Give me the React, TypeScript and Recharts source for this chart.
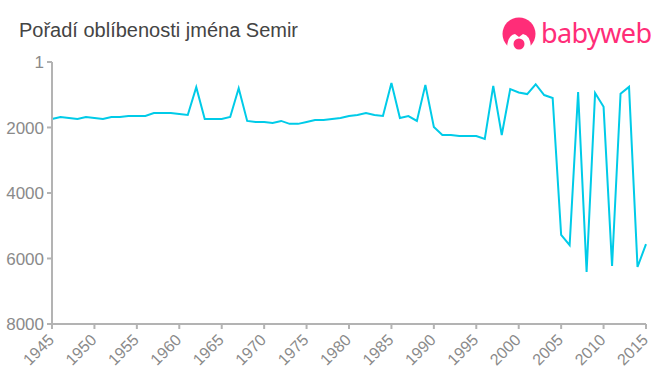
import React from 'react';
import { LineChart, Line, XAxis, YAxis } from 'recharts';

const years = [
    1945, 1946, 1947, 1948, 1949, 1950, 1951, 1952, 1953, 1954,
    1955, 1956, 1957, 1958, 1959, 1960, 1961, 1962, 1963, 1964,
    1965, 1966, 1967, 1968, 1969, 1970, 1971, 1972, 1973, 1974,
    1975, 1976, 1977, 1978, 1979, 1980, 1981, 1982, 1983, 1984,
    1985, 1986, 1987, 1988, 1989, 1990, 1991, 1992, 1993, 1994,
    1995, 1996, 1997, 1998, 1999, 2000, 2001, 2002, 2003, 2004,
    2005, 2006, 2007, 2008, 2009, 2010, 2011, 2012, 2013, 2014,
    2015,
];

const ranks = [
    1740, 1680, 1710, 1740, 1680, 1710, 1740, 1680, 1680, 1650,
    1650, 1650, 1560, 1560, 1560, 1590, 1620, 770, 1740, 1740,
    1740, 1680, 800, 1800, 1830, 1830, 1860, 1800, 1890, 1890,
    1830, 1770, 1770, 1740, 1710, 1650, 1620, 1560, 1620, 1650,
    640, 1710, 1650, 1800, 700, 1985, 2230, 2230, 2260, 2260,
    2260, 2350, 730, 2230, 830, 930, 980, 680, 1010, 1100,
    5280, 5590, 920, 6410, 950, 1370, 6230, 970, 760, 6260,
    5560,
];

const xTicks = [1945, 1950, 1955, 1960, 1965, 1970, 1975, 1980, 1985, 1990, 1995, 2000, 2005, 2010, 2015];
const yTicks = [1, 2000, 4000, 6000, 8000];

const data = years.map((year, i) => ({ year, rank: ranks[i] }));

const FONT = '"Liberation Sans", Arial, sans-serif';
const AXIS = '#b3b3b3';
const PINK = '#ff2d78';

const YearTick = ({ x, y, payload }: any) => (
    <text
        x={x + 3}
        y={y + 10}
        textAnchor="end"
        fontFamily={FONT}
        fontSize={16}
        fill="#8a8a8a"
        transform={`rotate(-45 ${x + 3} ${y + 10})`}
    >
        {payload.value}
    </text>
);

const Logo = () => (
    <svg width={160} height={60} style={{ position: 'absolute', left: 500, top: 10 }}>
        <circle cx={19} cy={24} r={16.5} fill={PINK} />
        <path d="M7 37 Q8 25 15 24 L19 27 L23 24 Q30 25 31 37 L26 42 L12 42 Z" fill="#fff" />
        <circle cx={19} cy={34} r={5.5} fill={PINK} />
        <text x={41} y={33} fontFamily='"Noto Sans", sans-serif' fontSize={27} fill={PINK} textLength={111}>
            babyweb
        </text>
    </svg>
);

const App: React.FC = () => (
    <div style={{ position: 'absolute', left: 0, top: 0, width: 660, height: 375, background: '#fff', overflow: 'hidden' }}>
        <div
            style={{
                position: 'absolute',
                left: 19,
                top: 20,
                fontFamily: FONT,
                fontSize: 20,
                lineHeight: '21px',
                color: '#444444',
                whiteSpace: 'nowrap',
            }}
        >
            Pořadí oblíbenosti jména Semir
        </div>
        <LineChart width={660} height={375} data={data} margin={{ top: 62, right: 14, bottom: 0, left: 0 }}>
            <XAxis
                dataKey="year"
                type="number"
                domain={[1945, 2015]}
                ticks={xTicks}
                interval={0}
                height={51}
                tick={<YearTick />}
                tickSize={5}
                stroke={AXIS}
                strokeWidth={2}
            />
            <YAxis
                type="number"
                reversed
                domain={[1, 8000]}
                ticks={yTicks}
                interval={0}
                width={52}
                tickSize={5}
                tickMargin={3}
                stroke={AXIS}
                strokeWidth={2}
                tick={{ fontFamily: FONT, fontSize: 17, fill: '#8a8a8a' }}
            />
            <Line
                dataKey="rank"
                type="linear"
                stroke="#00cbe8"
                strokeWidth={2}
                dot={false}
                isAnimationActive={false}
            />
        </LineChart>
        <Logo />
    </div>
);

export default App;
